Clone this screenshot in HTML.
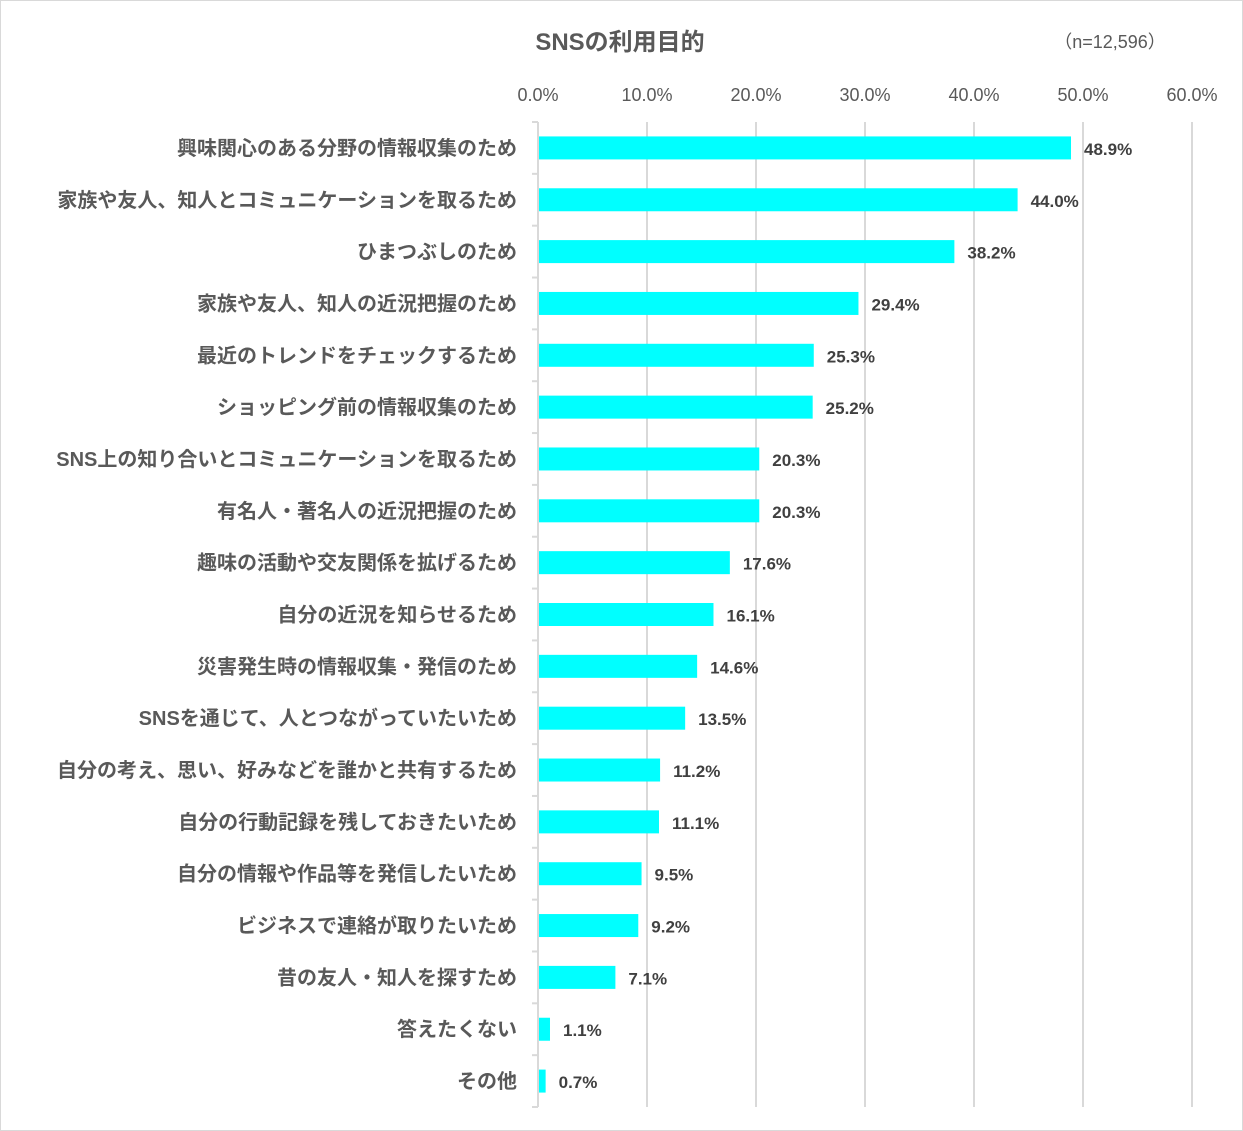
<!DOCTYPE html>
<html><head><meta charset="utf-8"><style>
body{margin:0;background:#fff}
svg{display:block}
text{font-family:"Liberation Sans","Noto Sans CJK JP",sans-serif}
</style></head><body>
<svg id="chart" width="1243" height="1131">
<rect x="0.5" y="0.5" width="1242" height="1130" fill="#fff" stroke="#d9d9d9"/>
<text x="620" y="50" text-anchor="middle" font-size="24" font-weight="bold" fill="#595959">SNSの利用目的</text>
<text x="1110" y="48" text-anchor="middle" font-size="18" fill="#595959">（n=12,596）</text>
<g id="grid"></g><g id="bars"></g>
</svg>
<script>
const categories=["興味関心のある分野の情報収集のため","家族や友人、知人とコミュニケーションを取るため","ひまつぶしのため","家族や友人、知人の近況把握のため","最近のトレンドをチェックするため","ショッピング前の情報収集のため","SNS上の知り合いとコミュニケーションを取るため","有名人・著名人の近況把握のため","趣味の活動や交友関係を拡げるため","自分の近況を知らせるため","災害発生時の情報収集・発信のため","SNSを通じて、人とつながっていたいため","自分の考え、思い、好みなどを誰かと共有するため","自分の行動記録を残しておきたいため","自分の情報や作品等を発信したいため","ビジネスで連絡が取りたいため","昔の友人・知人を探すため","答えたくない","その他"];
const values=[48.9,44.0,38.2,29.4,25.3,25.2,20.3,20.3,17.6,16.1,14.6,13.5,11.2,11.1,9.5,9.2,7.1,1.1,0.7];
const ticks=[0,10,20,30,40,50,60];
const NS="http://www.w3.org/2000/svg";
const x0=538,x1=1192,yTop=122,yBottom=1107,maxV=60;
const xs=v=>x0+(x1-x0)*v/maxV;
const band=(yBottom-yTop)/categories.length;
const ys=i=>yTop+band*i;
const grid=document.getElementById('grid'),bars=document.getElementById('bars');
function mk(tag,attrs,parent){const e=document.createElementNS(NS,tag);for(const k in attrs)e.setAttribute(k,attrs[k]);parent.appendChild(e);return e;}
ticks.forEach(t=>{
 if(t>0){const l=mk('line',{x1:xs(t),x2:xs(t),y1:yTop,y2:yBottom,stroke:'#d9d9d9','stroke-width':2},grid);
 
 }
 const tx=mk('text',{x:xs(t),y:101,'text-anchor':'middle','font-size':18,fill:'#595959'},grid);
 tx.textContent=t.toFixed(1)+'%';
 
 
});
const ax=mk('line',{x1:x0,x2:x0,y1:yTop,y2:yBottom,stroke:'#d9d9d9','stroke-width':2},grid);


for(let i=0;i<=categories.length;i++){
 const tk=mk('line',{x1:x0-6,x2:x0,y1:ys(i),y2:ys(i),stroke:'#d9d9d9','stroke-width':2},grid);
 
 
}
categories.forEach((c,i)=>{
 const cy=ys(i)+band/2;
 const r=mk('rect',{x:x0+1,y:cy-11.5,width:xs(values[i])-x0-1,height:23,fill:'#00ffff'},bars);
 
 
 const lb=mk('text',{x:517,y:cy+7,'text-anchor':'end','font-size':20,'font-weight':'bold',fill:'#595959'},bars);
 lb.textContent=c;
 
 
 const vl=mk('text',{x:xs(values[i])+13,y:cy+7,'font-size':17,'font-weight':'bold',fill:'#404040'},bars);
 vl.textContent=values[i].toFixed(1)+'%';
 
 
});
</script>
</body></html>
